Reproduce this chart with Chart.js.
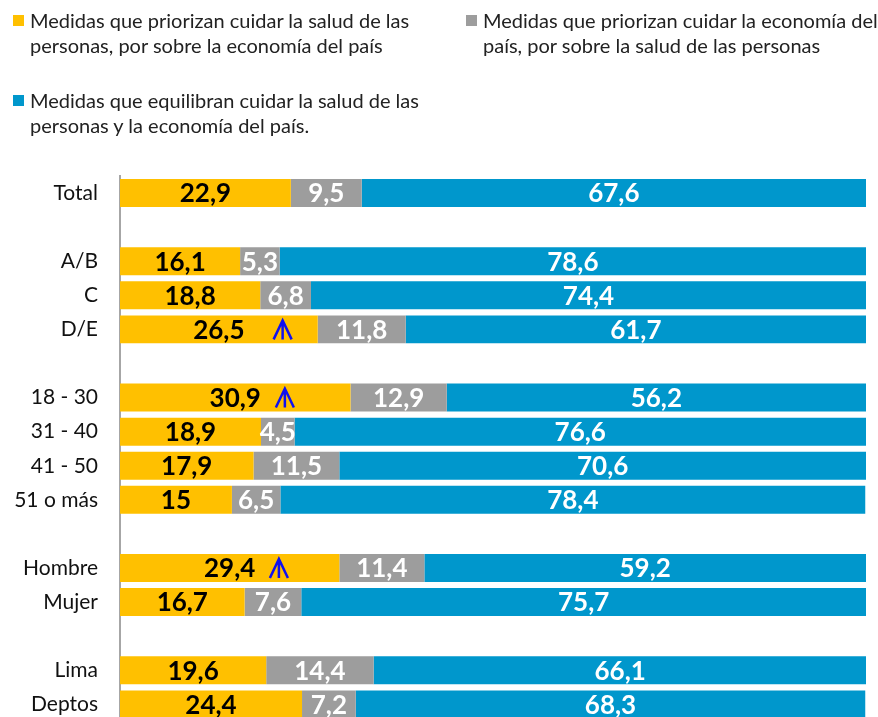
<!DOCTYPE html>
<html>
<head>
<meta charset="utf-8">
<script src="https://cdn.jsdelivr.net/npm/chart.js@4"></script>
<style>
  html, body { margin:0; padding:0; background:#fff; overflow:hidden; }
  #wrap { position:relative; width:878px; height:756px; }
  #chart { position:absolute; left:0; top:0; }
  .lg { position:absolute; font-family:Lato, "Open Sans", sans-serif; font-size:20px; line-height:25px; color:#222; }
  .lg i { position:absolute; left:-17px; top:7px; width:11px; height:11px; }
</style>
</head>
<body>
<div id="wrap">
  <canvas id="chart" width="878" height="756"></canvas>
  <div class="lg" style="left:30px;top:8px;width:420px"><i style="background:#FFC000"></i>Medidas que priorizan cuidar la salud de las personas, por sobre la economía del país</div>
  <div class="lg" style="left:483px;top:8px;width:395px"><i style="background:#9D9D9D"></i>Medidas que priorizan cuidar la economía del país, por sobre la salud de las personas</div>
  <div class="lg" style="left:30px;top:88px;width:420px"><i style="background:#0097CC"></i>Medidas que equilibran cuidar la salud de las personas y la economía del país.</div>
</div>
<script>
// filas vacías = separación entre grupos
const categorias = ["Total", "", "A/B", "C", "D/E", "", "18 - 30", "31 - 40", "41 - 50", "51 o más", "", "Hombre", "Mujer", "", "Lima", "Deptos"];
const salud     = [22.9, null, 16.1, 18.8, 26.5, null, 30.9, 18.9, 17.9, 15,   null, 29.4, 16.7, null, 19.6, 24.4];
const economia  = [9.5,  null, 5.3,  6.8,  11.8, null, 12.9, 4.5,  11.5, 6.5,  null, 11.4, 7.6,  null, 14.4, 7.2];
const equilibra = [67.6, null, 78.6, 74.4, 61.7, null, 56.2, 76.6, 70.6, 78.4, null, 59.2, 75.7, null, 66.1, 68.3];
// flechas de diferencia significativa (posición en la escala de %)
const flechas   = [null, null, null, null, 21.8, null, 22.1, null, null, null, null, 21.3, null, null, null, null];

const colores = { salud:'#FFC000', economia:'#9D9D9D', equilibra:'#0097CC' };

const fmt = v => String(v).replace('.', ',');

const etiquetas = {
  id: 'etiquetas',
  afterDatasetsDraw(chart) {
    const ctx = chart.ctx;
    ctx.save();
    ctx.font = 'bold 26px Lato, "Open Sans", sans-serif';
    ctx.textAlign = 'center';
    ctx.textBaseline = 'middle';
    chart.data.datasets.forEach((ds, di) => {
      chart.getDatasetMeta(di).data.forEach((bar, i) => {
        const v = ds.data[i];
        if (v == null) return;
        const { x, base, y } = bar.getProps(['x', 'base', 'y'], true);
        ctx.fillStyle = di === 0 ? '#000' : '#fff';
        ctx.fillText(fmt(v), (x + base) / 2, y + 1);
      });
    });
    // flechas azules
    const xs = chart.scales.x, ys = chart.scales.y;
    ctx.strokeStyle = '#1010f0';
    ctx.lineWidth = 2.5;
    flechas.forEach((f, i) => {
      if (f == null) return;
      const cx = xs.getPixelForValue(f), cy = ys.getPixelForValue(i);
      ctx.beginPath();
      ctx.moveTo(cx, cy - 9); ctx.lineTo(cx, cy + 10);
      ctx.moveTo(cx - 9, cy + 10); ctx.lineTo(cx, cy - 9); ctx.lineTo(cx + 9, cy + 10);
      ctx.stroke();
    });
    ctx.restore();
  }
};

new Chart(document.getElementById('chart'), {
  type: 'bar',
  data: {
    labels: categorias,
    datasets: [
      { label: 'salud', data: salud, backgroundColor: colores.salud },
      { label: 'economia', data: economia, backgroundColor: colores.economia },
      { label: 'equilibra', data: equilibra, backgroundColor: colores.equilibra }
    ]
  },
  options: {
    indexAxis: 'y',
    responsive: false,
    animation: false,
    categoryPercentage: 1,
    barPercentage: 0.82,
    layout: { padding: { top: 176, bottom: 7, right: 12, left: 0 } },
    plugins: { legend: { display: false }, tooltip: { enabled: false } },
    scales: {
      x: { stacked: true, min: 0, max: 100, display: false },
      y: {
        stacked: true,
        grid: { display: false, drawTicks: false },
        border: { display: true, color: '#a6a6a6', width: 2 },
        ticks: { color: '#111', padding: 22, font: { family: 'Lato, "Open Sans", sans-serif', size: 21 } },
        afterFit: s => { s.width = 120; }
      }
    }
  },
  plugins: [etiquetas]
});
</script>
</body>
</html>
